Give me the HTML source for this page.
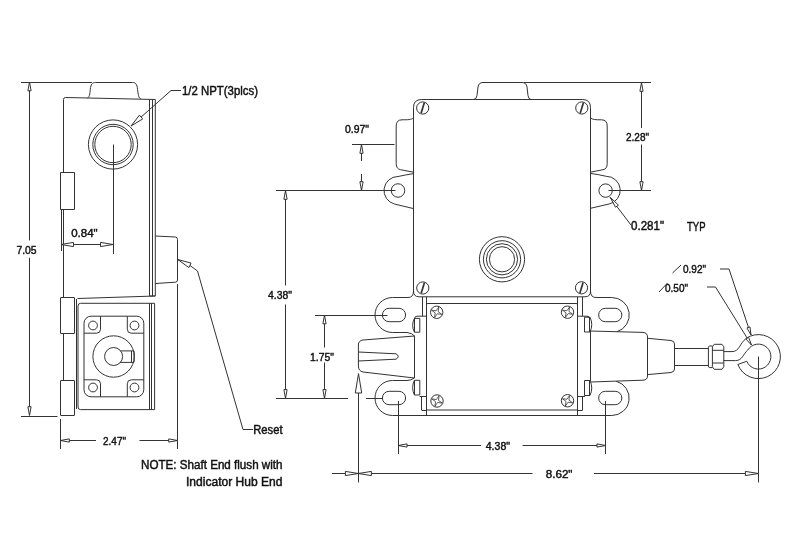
<!DOCTYPE html>
<html><head><meta charset="utf-8"><title>Dimension drawing</title>
<style>
html,body{margin:0;padding:0;background:#fff;}
body{width:800px;height:539px;overflow:hidden;}
svg{display:block;}
svg path,svg circle,svg rect{fill:none;stroke:#333;stroke-width:1;stroke-linecap:butt;stroke-linejoin:round;}
svg text{font-family:"Liberation Sans",sans-serif;fill:#111;stroke:#111;stroke-width:0.45;}
</style></head><body>
<svg width="800" height="539" viewBox="0 0 800 539" style="will-change:transform;filter:grayscale(1)">
<rect x="0" y="0" width="800" height="539" style="fill:#fff;stroke:none"/>
<path d="M87.5 97.9C89.5 97.6 89.8 94 90.3 89.5C90.8 84 92.5 82.5 95.5 82.5L132.5 82.5C135.5 82.5 137 84 137.6 89.5C138.1 94 138.6 98.3 140.8 98.9" />
<path d="M63.5 172L63.5 99.5Q63.5 97.5 65.5 97.5L155.3 99.5L155.3 296L149.5 296" />
<path d="M149.5 99.4L149.5 296"/>
<path d="M152.5 99.4L152.5 296"/>
<path d="M63.5 209.5L63.5 297.5"/>
<path d="M61.5 209.5L61.5 251"/>
<path d="M155.3 296L77.5 298.5" />
<circle cx="113" cy="144.5" r="24.6" />
<circle cx="113" cy="144.5" r="20.2" />
<circle cx="113" cy="144.5" r="18.2" />
<rect x="60.5" y="172.5" width="14" height="37" rx="0" />
<path d="M155.3 236L175.5 237Q177.5 237.2 177.5 239.5L177.5 280Q177.5 282 175.5 282.2L155.3 283.5" />
<path d="M177.5 284L177.5 449"/>
<rect x="60.5" y="297.5" width="14" height="36" rx="0.3" />
<rect x="60.5" y="380.5" width="14" height="35" rx="0.3" />
<path d="M63.5 333L63.5 380"/>
<path d="M80.5 303.3L154.6 303.3L154.6 409.6L80.5 409.6Q78 409.6 78 407L78 306Q78 303.3 80.5 303.3Z" />
<path d="M149.5 303.3L149.5 409.6"/>
<path d="M151.5 303.3L151.5 409.6"/>
<path d="M76.5 299L76.5 409"/>
<rect x="84" y="316.2" width="59.8" height="80.6" rx="7" />
<path d="M100.5 316.2L100.5 329.2Q100.5 333.2 96.5 333.2L84 333.2" />
<path d="M127.30000000000001 316.2L127.30000000000001 329.2Q127.30000000000001 333.2 131.3 333.2L143.8 333.2" />
<path d="M100.5 396.8L100.5 383.8Q100.5 379.8 96.5 379.8L84 379.8" />
<path d="M127.30000000000001 396.8L127.30000000000001 383.8Q127.30000000000001 379.8 131.3 379.8L143.8 379.8" />
<circle cx="93" cy="325.5" r="4.4" />
<circle cx="134.5" cy="325.5" r="4.4" />
<circle cx="93" cy="387.5" r="4.4" />
<circle cx="134.5" cy="387.5" r="4.4" />
<circle cx="113.6" cy="356.5" r="20.7" />
<path d="M119 350.9L133.6 350.9Q134.1 350.9 134.1 351.4L134.1 361.9Q134.1 362.4 133.6 362.4L119 362.4" />
<path d="M131.5 350.9L131.5 362.4"/>
<circle cx="113.6" cy="356.5" r="9" style="fill:#fff"/>
<path d="M21 82.5L92 82.5"/>
<path d="M21 416.5L57.5 416.5"/>
<path d="M29.5 82L29.5 240.4"/>
<path d="M29.5 257.8L29.5 415"/>
<path d="M29.50 82.00L31.10 90.80L27.90 90.80Z" style="fill:#fff"/>
<path d="M29.50 415.50L27.90 406.70L31.10 406.70Z" style="fill:#fff"/>
<text x="16.4" y="253.6" font-size="11.5" textLength="20.2" lengthAdjust="spacingAndGlyphs" text-anchor="start">7.05</text>
<path d="M113.5 144.5L113.5 254"/>
<path d="M61 244.5L113 244.5"/>
<path d="M61.00 244.50L73.50 242.40L73.50 246.60Z" style="fill:#fff"/>
<path d="M113.00 244.50L100.50 246.60L100.50 242.40Z" style="fill:#fff"/>
<text x="71.2" y="237.2" font-size="11.5" textLength="26.5" lengthAdjust="spacingAndGlyphs" text-anchor="start">0.84&quot;</text>
<path d="M60.5 419L60.5 449"/>
<path d="M60.5 440.5L96 440.5"/>
<path d="M139.5 440.5L177.5 440.5"/>
<path d="M60.50 440.50L69.30 438.90L69.30 442.10Z" style="fill:#fff"/>
<path d="M177.50 440.50L168.70 442.10L168.70 438.90Z" style="fill:#fff"/>
<text x="103" y="445" font-size="11.5" textLength="23" lengthAdjust="spacingAndGlyphs" text-anchor="start">2.47&quot;</text>
<path d="M131 126L171 90.5L181 90.5" />
<path d="M131.00 126.00L139.44 115.17L142.76 118.91Z" style="fill:#fff"/>
<text x="182" y="95" font-size="12" textLength="76" lengthAdjust="spacingAndGlyphs" text-anchor="start">1/2 NPT(3plcs)</text>
<path d="M177.5 259.5L190 265.5L197.5 271L243 429.5L253 429.5" />
<path d="M177.80 259.50L191.05 263.09L188.89 267.60Z" style="fill:#fff"/>
<text x="253.3" y="433.5" font-size="12" textLength="29.2" lengthAdjust="spacingAndGlyphs" text-anchor="start">Reset</text>
<text x="141" y="468.6" font-size="12" textLength="141.5" lengthAdjust="spacingAndGlyphs" text-anchor="start">NOTE: Shaft End flush with</text>
<text x="186" y="486.1" font-size="12" textLength="96.5" lengthAdjust="spacingAndGlyphs" text-anchor="start">Indicator Hub End</text>
<path d="M413.5 291L413.5 107.5Q413.5 99.5 421.5 99.5L582.5 99.5Q590.5 99.5 590.5 107.5L590.5 291" />
<path d="M473.5 99.5Q476.5 99.5 477 95.5L478 87Q478.6 82.5 483 82.5L522 82.5Q526.4 82.5 527 87L528 95.5Q528.5 99.5 531 99.5" />
<circle cx="422.7" cy="108" r="6.1" />
<path d="M421.09999999999997 113.3L424.3 102.7" style="stroke-width:1.7"/>
<circle cx="581.8" cy="108" r="6.1" />
<path d="M580.1999999999999 113.3L583.4 102.7" style="stroke-width:1.7"/>
<circle cx="422.8" cy="288" r="6.1" />
<path d="M421.2 293.3L424.40000000000003 282.7" style="stroke-width:1.7"/>
<circle cx="581.5" cy="287.8" r="6.1" />
<path d="M579.9 293.1L583.1 282.5" style="stroke-width:1.7"/>
<path d="M413.5 117.8C411.5 119.8 408 119.8 402 119.8Q396.2 119.8 396.2 126L396.2 163.5Q396.2 169 400.5 169.7L413.5 172.2" />
<path d="M590.5 117.8C592.5 119.8 596 119.8 601.5 119.8Q607.2 119.8 607.2 126L607.2 163.5Q607.2 169 603 169.7L590.5 172.2" />
<path d="M413.5 173.6Q405 175 398 176.5A14 14 0 0 0 394.5 204.05L413.5 208.6" />
<circle cx="398" cy="190.5" r="6.75" />
<path d="M590.5 173.4Q599 174.6 606.2 176.3A14 14 0 0 1 609.1 204L590.5 208.3" />
<circle cx="605.6" cy="190.6" r="6.7" />
<circle cx="502" cy="259.3" r="22.6" />
<circle cx="502" cy="259.3" r="18.6" />
<circle cx="502" cy="259.3" r="15.6" />
<circle cx="502" cy="259.3" r="12.6" />
<path d="M413.5 291Q413.5 296.8 419 296.8L585 296.8Q590.5 296.8 590.5 291" />
<path d="M413.5 291Q413.5 297.5 408 297.5L392.5 297.5A17.5 17.5 0 0 0 392.5 332.5L407 332.5Q412 333 414.6 336" />
<path d="M414.4 378Q411 380.5 407 380.5L392.5 380.5A17.5 17.5 0 0 0 392.5 415.5L502.2 415.5" />
<rect x="382.4" y="308.3" width="23.2" height="13.4" rx="6.7" />
<rect x="382.4" y="391.3" width="23.2" height="13.4" rx="6.7" />
<path d="M590.5 291Q590.5 297.5 596 297.5L611.75 297.5A17.5 17.5 0 0 1 617 331.7" />
<path d="M616.2 381.28A17.4 17.4 0 0 1 611.75 415.5L502 415.5" />
<rect x="598.65" y="308.3" width="23.2" height="13.4" rx="6.7" />
<rect x="598.65" y="391.3" width="23.2" height="13.4" rx="6.7" />
<path d="M414.5 336L414.5 378"/>
<path d="M590.5 331L590.5 381"/>
<path d="M426.5 296.8L426.5 415.5M577.5 296.8L577.5 415.5M426.5 304.5Q426.5 303.5 428 303.5L576 303.5Q577.5 303.5 577.5 304.5M426.5 410L577.5 410" />
<path d="M422.5 296.8L422.5 316.2"/>
<path d="M414.4 319Q414.6 316.2 417 316.2L426.5 316.2" />
<path d="M582.5 296.8L582.5 316.2"/>
<path d="M589.8 319Q589.6 316.2 587 316.2L577.5 316.2" />
<path d="M421.5 396.4L421.5 410"/>
<path d="M419.6 396.5L426.4 396.5"/>
<path d="M421.6 410.5L426.4 410.5"/>
<path d="M582.5 396.4L582.5 410"/>
<path d="M577.5 396.5L585 396.5"/>
<path d="M577.5 410.5L582.6 410.5"/>
<path d="M419.8 318.4L419.8 332.2L414.4 332.2Q410.9 325.29999999999995 414.4 318.4Z" />
<path d="M414.5 318.4L414.5 332.2"/>
<path d="M419.8 380.3L419.8 395L414.4 395Q410.9 387.65 414.4 380.3Z" />
<path d="M414.5 380.3L414.5 395"/>
<path d="M584.5 317.2L584.5 332L590 332Q593.5 324.6 590 317.2Z" />
<path d="M589.5 317.2L589.5 332"/>
<path d="M584.5 380.5L584.5 395.5L590 395.5Q593.5 388.0 590 380.5Z" />
<path d="M589.5 380.5L589.5 395.5"/>
<circle cx="436.7" cy="312.3" r="6.2" />
<path d="M441.89 314.40L437.33 313.77L434.60 317.49L435.23 312.93L431.51 310.20L436.07 310.83L438.80 307.11L438.17 311.67Z" style="stroke-width:0.8"/>
<circle cx="437" cy="401" r="6.2" />
<path d="M442.19 403.10L437.63 402.47L434.90 406.19L435.53 401.63L431.81 398.90L436.37 399.53L439.10 395.81L438.47 400.37Z" style="stroke-width:0.8"/>
<circle cx="567.5" cy="312.2" r="6.2" />
<path d="M572.69 314.30L568.13 313.67L565.40 317.39L566.03 312.83L562.31 310.10L566.87 310.73L569.60 307.01L568.97 311.57Z" style="stroke-width:0.8"/>
<circle cx="567.5" cy="400.75" r="6.2" />
<path d="M572.69 402.85L568.13 402.22L565.40 405.94L566.03 401.38L562.31 398.65L566.87 399.28L569.60 395.56L568.97 400.12Z" style="stroke-width:0.8"/>
<path d="M414.6 336L363 340Q358.4 340.5 358.4 345L358.4 366Q358.4 371 363 372L414.4 378" />
<path d="M358.4 352L396 353.8Q400.5 356.5 396 359.2L358.4 361" />
<path d="M590 331L643 332.4Q647.5 332.8 647.5 337L647.5 376Q647.5 380 643 380.2L591 382" />
<path d="M647.5 338.3L671 340.5Q674.5 341 674.5 344L674.5 369Q674.5 372 671 372.5L647.5 374.6" />
<path d="M674.5 348.5L708.4 348.5"/>
<path d="M674.5 365.5L708.4 365.5"/>
<path d="M712.4 346L709.8 346Q708.4 346 708.4 347.5L708.4 366Q708.4 367.6 709.8 367.6L712.4 367.6" />
<path d="M714.2 344.3L722 344.3L723.8 346.8L723.8 366.8L722 369.3L714.2 369.3L712.4 366.8L712.4 346.8Z" />
<path d="M712.4 350.3L723.8 350.3M712.4 363L723.8 363" />
<path d="M723.6 351.6L732 351.6C739.5 351.6 739.5 343.5 746.31 338.22A22 22 0 1 1 737.85 364.46L746.81 361.27A12.5 12.5 0 1 0 747.73 350.08C743 354 742.5 360.6 735.5 360.6L723.6 360.6" />
<path d="M352 144.5L394.5 144.5"/>
<path d="M361.5 144.5L361.5 161"/>
<path d="M361.5 174L361.5 190.5"/>
<path d="M361.50 144.50L363.10 153.30L359.90 153.30Z" style="fill:#fff"/>
<path d="M361.50 190.50L359.90 181.70L363.10 181.70Z" style="fill:#fff"/>
<text x="345" y="132.5" font-size="11.5" textLength="24" lengthAdjust="spacingAndGlyphs" text-anchor="start">0.97&quot;</text>
<path d="M276 190.5L395.5 190.5"/>
<path d="M276 398.5L348 398.5"/>
<path d="M285.5 190.5L285.5 285.5"/>
<path d="M285.5 304.5L285.5 398"/>
<path d="M285.50 190.50L287.10 199.30L283.90 199.30Z" style="fill:#fff"/>
<path d="M285.50 398.40L283.90 389.60L287.10 389.60Z" style="fill:#fff"/>
<text x="268" y="299" font-size="11.5" textLength="24" lengthAdjust="spacingAndGlyphs" text-anchor="start">4.38&quot;</text>
<path d="M315 315.5L387.5 315.5"/>
<path d="M324.5 315L324.5 347.5"/>
<path d="M324.5 362.5L324.5 398"/>
<path d="M324.50 315.00L326.10 323.80L322.90 323.80Z" style="fill:#fff"/>
<path d="M324.50 398.40L322.90 389.60L326.10 389.60Z" style="fill:#fff"/>
<text x="310" y="360.5" font-size="11.5" textLength="24" lengthAdjust="spacingAndGlyphs" text-anchor="start">1.75&quot;</text>
<path d="M366 398.5L382 398.5"/>
<path d="M358.5 393L358.5 482.4"/>
<path d="M358.50 373.60L361.70 393.00L355.30 393.00Z" style="fill:#fff"/>
<path d="M524 82.5L651 82.5"/>
<path d="M608.5 190.5L651 190.5"/>
<path d="M641.5 82L641.5 128"/>
<path d="M641.5 144.5L641.5 190.5"/>
<path d="M641.50 82.50L643.10 91.30L639.90 91.30Z" style="fill:#fff"/>
<path d="M641.50 190.50L639.90 181.70L643.10 181.70Z" style="fill:#fff"/>
<text x="626" y="141" font-size="11.5" textLength="23" lengthAdjust="spacingAndGlyphs" text-anchor="start">2.28&quot;</text>
<path d="M610 197.5L631 225" />
<path d="M610.30 197.40L618.41 205.05L615.55 207.23Z" style="fill:#fff"/>
<text x="631" y="229.8" font-size="12.3" textLength="33" lengthAdjust="spacingAndGlyphs" text-anchor="start">0.281&quot;</text>
<text x="687" y="230.8" font-size="12.3" textLength="18.5" lengthAdjust="spacingAndGlyphs" text-anchor="start">TYP</text>
<path d="M672.5 273L681 265"/>
<text x="683" y="273" font-size="11.5" textLength="23" lengthAdjust="spacingAndGlyphs" text-anchor="start">0.92&quot;</text>
<path d="M659 292L667.5 283"/>
<text x="665" y="292" font-size="11.5" textLength="23" lengthAdjust="spacingAndGlyphs" text-anchor="start">0.50&quot;</text>
<path d="M720 269L729 269L751 335" />
<path d="M751.00 335.00L746.95 327.92L749.99 326.90Z" style="fill:#fff"/>
<path d="M707 287L715.5 287L751.5 345" />
<path d="M751.50 345.00L745.92 339.05L748.64 337.36Z" style="fill:#fff"/>
<path d="M758.5 356.5L758.5 482.4"/>
<path d="M398.5 401L398.5 454"/>
<path d="M605.5 401L605.5 454"/>
<path d="M398.25 445.5L481 445.5"/>
<path d="M522.5 445.5L605.75 445.5"/>
<path d="M398.25 445.50L407.05 443.90L407.05 447.10Z" style="fill:#fff"/>
<path d="M605.75 445.50L596.95 447.10L596.95 443.90Z" style="fill:#fff"/>
<text x="485.75" y="450" font-size="11.5" textLength="24.25" lengthAdjust="spacingAndGlyphs" text-anchor="start">4.38&quot;</text>
<path d="M332 473.5L532.5 473.5"/>
<path d="M594 473.5L758.4 473.5"/>
<path d="M358.40 473.50L345.40 475.60L345.40 471.40Z" style="fill:#fff"/>
<path d="M358.40 473.50L371.40 471.40L371.40 475.60Z" style="fill:#fff"/>
<path d="M758.40 473.50L745.40 475.60L745.40 471.40Z" style="fill:#fff"/>
<text x="545.75" y="477.5" font-size="11.5" textLength="26.75" lengthAdjust="spacingAndGlyphs" text-anchor="start">8.62&quot;</text>
</svg>
</body></html>
